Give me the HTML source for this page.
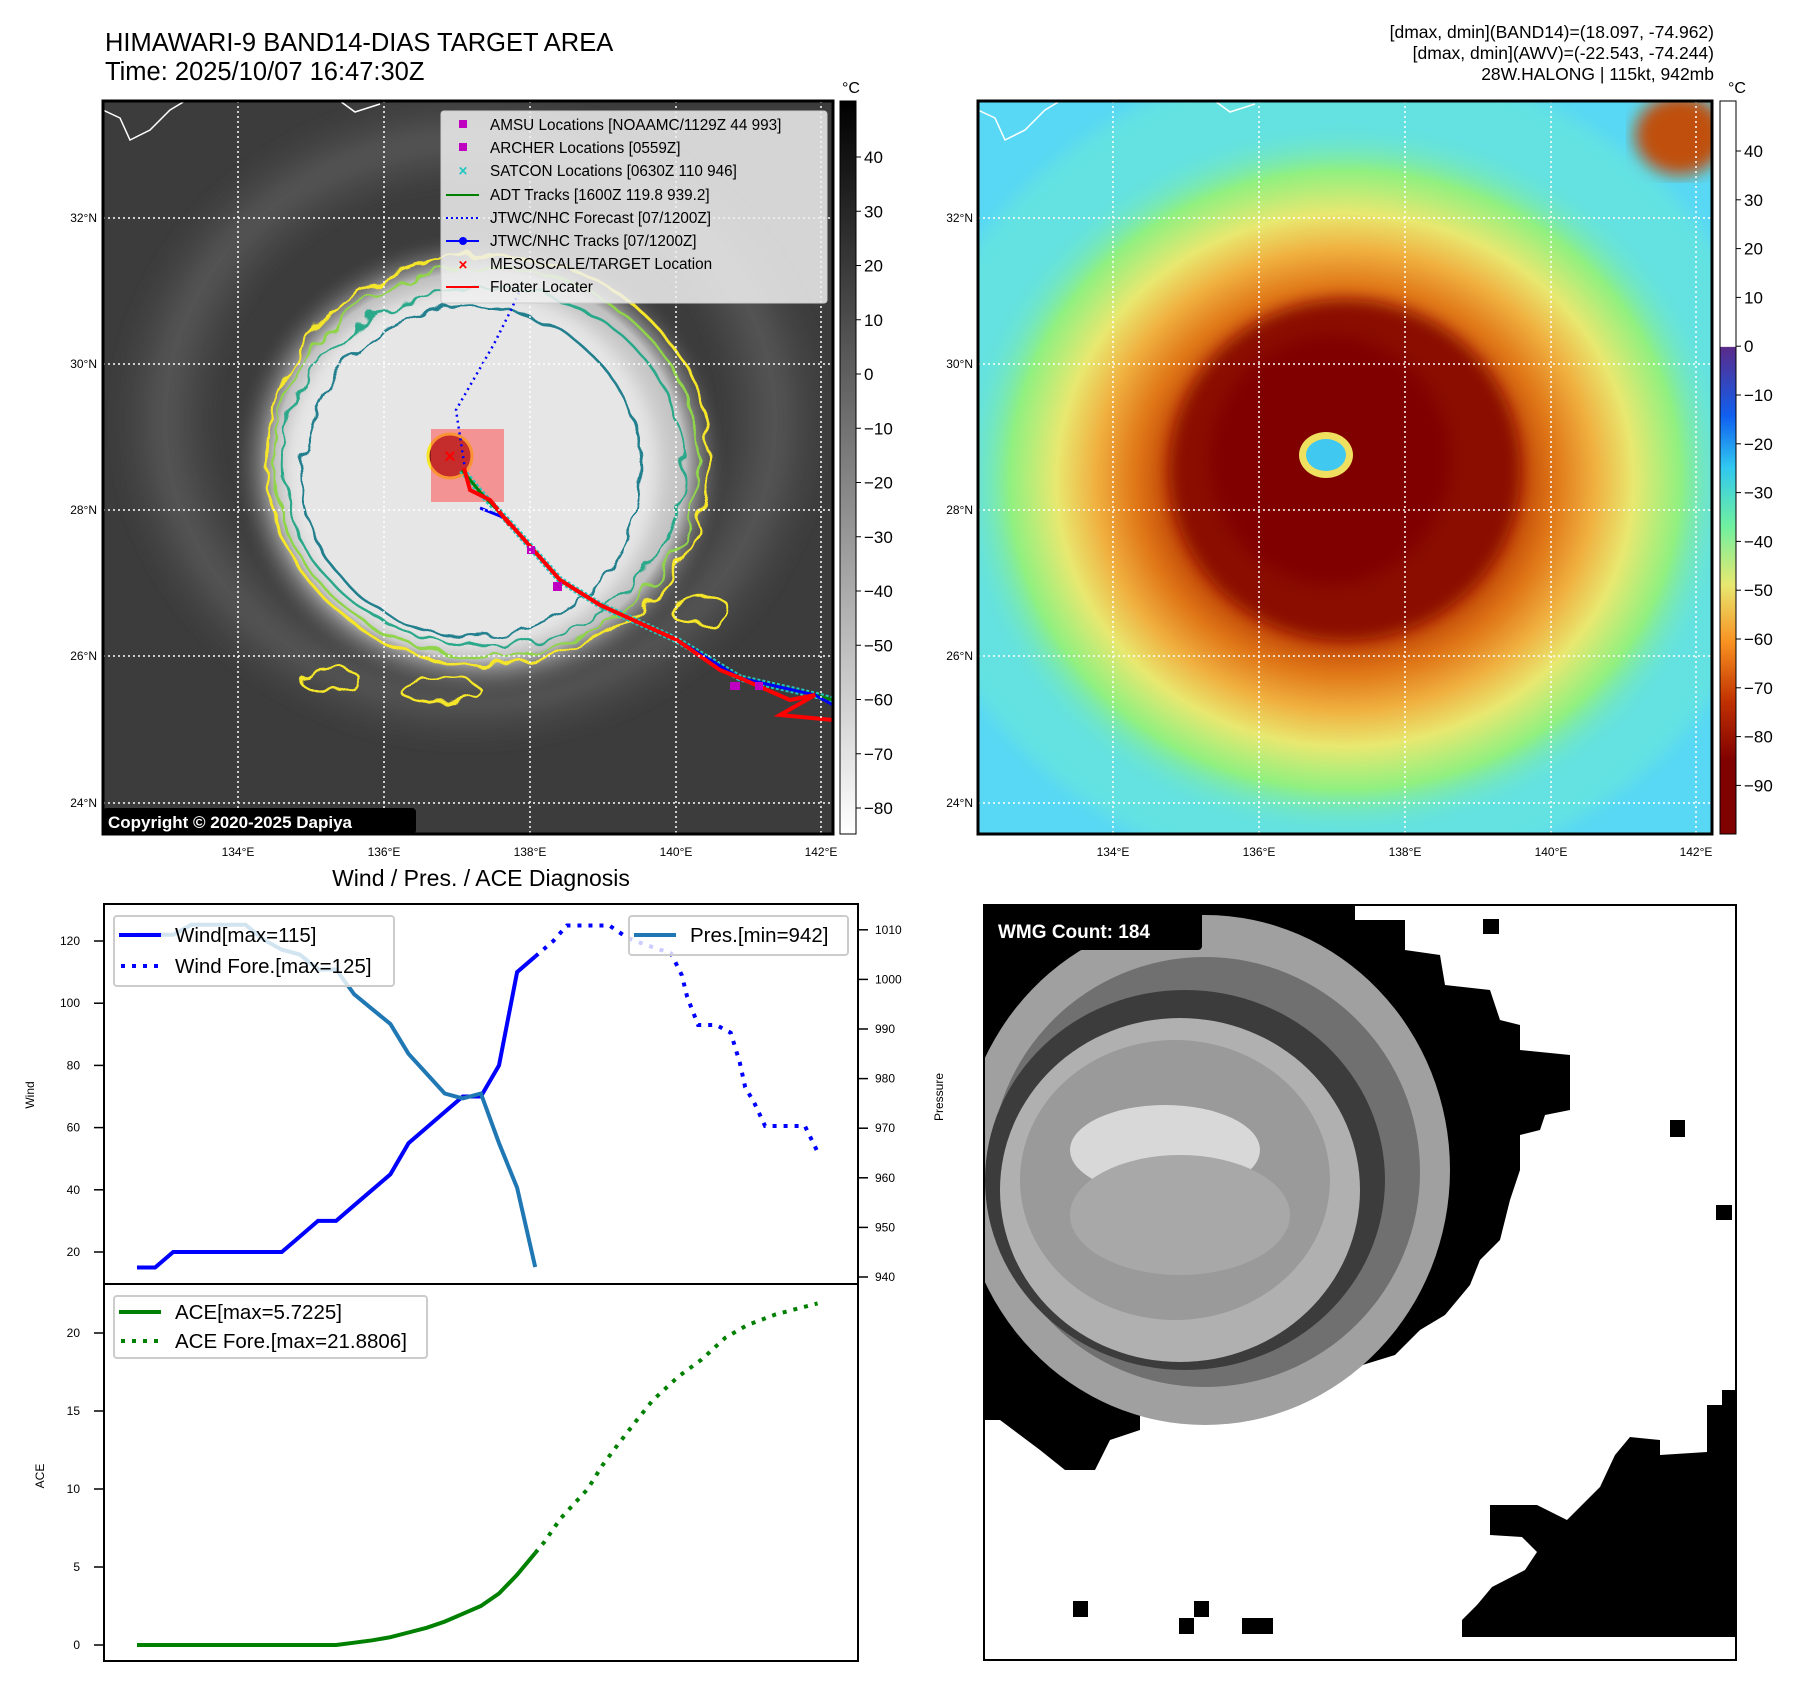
<!DOCTYPE html>
<html><head><meta charset="utf-8">
<style>
html,body{margin:0;padding:0;background:#fff;}
svg{display:block;font-family:"Liberation Sans","DejaVu Sans",sans-serif;}
</style></head>
<body>
<svg id="root" width="1797" height="1690" viewBox="0 0 1797 1690" xmlns="http://www.w3.org/2000/svg">
<defs>
  <radialGradient id="cloudG" cx="0.5" cy="0.5" r="0.5">
    <stop offset="0" stop-color="#f0f0f0"/><stop offset="0.6" stop-color="#e2e2e2"/><stop offset="0.82" stop-color="#c0c0c0"/><stop offset="1" stop-color="#3c3c3c" stop-opacity="0"/>
  </radialGradient>
  <radialGradient id="bandG" cx="0.5" cy="0.5" r="0.5">
    <stop offset="0.7" stop-color="#666" stop-opacity="0"/><stop offset="0.85" stop-color="#707070" stop-opacity="0.5"/><stop offset="1" stop-color="#555" stop-opacity="0"/>
  </radialGradient>
  <radialGradient id="irG" cx="0.5" cy="0.5" r="0.5">
    <stop offset="0" stop-color="#800000"/><stop offset="0.3" stop-color="#880800"/><stop offset="0.42" stop-color="#b83800"/><stop offset="0.54" stop-color="#e07818"/><stop offset="0.64" stop-color="#f0b040"/><stop offset="0.74" stop-color="#e8e870"/><stop offset="0.86" stop-color="#90f080"/><stop offset="1" stop-color="#60e0e8" stop-opacity="0"/>
  </radialGradient>
  <linearGradient id="cbGray" x1="0" y1="0" x2="0" y2="1">
    <stop offset="0" stop-color="#000"/><stop offset="1" stop-color="#fff"/>
  </linearGradient>
  <linearGradient id="cbIR" x1="0" y1="0" x2="0" y2="1">
    <stop offset="0" stop-color="#fff"/><stop offset="0.335" stop-color="#fff"/><stop offset="0.336" stop-color="#5a2a8a"/>
    <stop offset="0.43" stop-color="#1060f0"/><stop offset="0.5" stop-color="#30c8f0"/><stop offset="0.58" stop-color="#70f0a0"/>
    <stop offset="0.66" stop-color="#e8e870"/><stop offset="0.74" stop-color="#f89020"/><stop offset="0.82" stop-color="#c03000"/><stop offset="0.9" stop-color="#800000"/><stop offset="1" stop-color="#800000"/>
  </linearGradient>
  <filter id="wig" x="-10%" y="-10%" width="120%" height="120%">
    <feTurbulence type="fractalNoise" baseFrequency="0.04" numOctaves="2" seed="3"/>
    <feDisplacementMap in="SourceGraphic" scale="18"/>
  </filter>
  <filter id="blur8"><feGaussianBlur stdDeviation="8"/></filter>
  <clipPath id="clipL"><rect x="103" y="101" width="730" height="733"/></clipPath>
  <clipPath id="clipR"><rect x="978" y="101" width="734" height="733"/></clipPath>
  <clipPath id="clipW"><rect x="984" y="905" width="752" height="755"/></clipPath>
</defs>

<!-- Titles -->
<text x="105" y="51" font-size="25.5" fill="#000">HIMAWARI-9 BAND14-DIAS TARGET AREA</text>
<text x="105" y="80" font-size="25.5" fill="#000">Time: 2025/10/07 16:47:30Z</text>
<g font-size="17.5" text-anchor="end" fill="#000">
  <text x="1714" y="38">[dmax, dmin](BAND14)=(18.097, -74.962)</text>
  <text x="1714" y="59">[dmax, dmin](AWV)=(-22.543, -74.244)</text>
  <text x="1714" y="80">28W.HALONG | 115kt, 942mb</text>
</g>

<!-- LEFT MAP -->
<g clip-path="url(#clipL)">
  <rect x="103" y="101" width="730" height="733" fill="#3c3c3c"/>
  <ellipse cx="470" cy="420" rx="360" ry="330" fill="url(#bandG)" filter="url(#blur8)"/>
  <ellipse cx="480" cy="465" rx="250" ry="235" fill="url(#cloudG)"/>
  <ellipse cx="470" cy="470" rx="185" ry="180" fill="#e6e6e6" filter="url(#blur8)"/>
  <g fill="none" filter="url(#wig)">
    <ellipse cx="488" cy="460" rx="222" ry="205" stroke="#f5e62a" stroke-width="3"/>
    <ellipse cx="486" cy="462" rx="212" ry="195" stroke="#8fd448" stroke-width="2.5"/>
    <ellipse cx="484" cy="466" rx="200" ry="180" stroke="#2aa88a" stroke-width="2.5"/>
    <ellipse cx="472" cy="472" rx="170" ry="165" stroke="#237f8e" stroke-width="2.5"/>
    <ellipse cx="330" cy="680" rx="30" ry="12" stroke="#f5e62a" stroke-width="2.5"/>
    <ellipse cx="700" cy="610" rx="30" ry="14" stroke="#f5e62a" stroke-width="2.5"/>
    <ellipse cx="440" cy="690" rx="40" ry="12" stroke="#f5e62a" stroke-width="2.5"/>
  </g>
  <circle cx="450" cy="456" r="22" fill="#8b1a1a" stroke="#f5e62a" stroke-width="3"/>
  <rect x="431" y="429" width="73" height="73" fill="#ff4040" fill-opacity="0.5"/>
  <polyline points="103,110 120,118 130,140 150,130 170,110 185,101" fill="none" stroke="#fff" stroke-width="1.5"/>
  <polyline points="340,101 355,112 380,104" fill="none" stroke="#fff" stroke-width="1.5"/>
  <polyline points="466,476 456,410 494,344 511,310 520,290" fill="none" stroke="#0000ff" stroke-width="2.5" stroke-dasharray="2,4"/>
  <polyline points="462,470 480,492 505,518 560,580 600,605 677,640 740,678 815,695 833,700" fill="none" stroke="#20c8c0" stroke-width="7" stroke-dasharray="3,2"/>
  <polyline points="462,470 480,492 505,518 560,580 600,605 677,640 740,678 815,695 833,700" fill="none" stroke="#008000" stroke-width="3"/>
  <polyline points="480,508 505,518 560,580 600,605 677,640 740,678 815,695 833,705" fill="none" stroke="#0000ff" stroke-width="3"/>
  <polyline points="464,468 470,490 490,500 510,525 505,518 560,580 600,605 677,640 720,670 740,678 790,700 815,695 780,715 833,720" fill="none" stroke="#ff0000" stroke-width="4"/>
  <g fill="#c000c0"><rect x="527" y="546" width="8" height="8"/><rect x="553" y="582" width="9" height="9"/><rect x="730" y="682" width="10" height="8"/><rect x="755" y="682" width="8" height="8"/></g>
  <text x="450" y="463" font-size="20" font-weight="bold" fill="#ff0000" text-anchor="middle">×</text>
  <g stroke="#fff" stroke-width="1.5" stroke-dasharray="2,3">
    <line x1="238" y1="101" x2="238" y2="834"/><line x1="384" y1="101" x2="384" y2="834"/><line x1="530" y1="101" x2="530" y2="834"/><line x1="676" y1="101" x2="676" y2="834"/><line x1="821" y1="101" x2="821" y2="834"/>
    <line x1="103" y1="218" x2="833" y2="218"/><line x1="103" y1="364" x2="833" y2="364"/><line x1="103" y1="510" x2="833" y2="510"/><line x1="103" y1="656" x2="833" y2="656"/><line x1="103" y1="803" x2="833" y2="803"/>
  </g>
  <g>
    <rect x="441" y="111" width="386" height="192" rx="3" fill="#f0f0f0" fill-opacity="0.85" stroke="#ccc"/>
    <g font-size="15.3" fill="#000">
      <rect x="459" y="120" width="8" height="8" fill="#c000c0"/><text x="490" y="130">AMSU Locations [NOAAMC/1129Z 44 993]</text>
      <rect x="459" y="143" width="8" height="8" fill="#c000c0"/><text x="490" y="153">ARCHER Locations [0559Z]</text>
      <text x="463" y="176" fill="#20c8c0" text-anchor="middle" font-weight="bold">×</text><text x="490" y="176">SATCON Locations [0630Z 110 946]</text>
      <line x1="446" y1="195" x2="479" y2="195" stroke="#008000" stroke-width="2"/><text x="490" y="200">ADT Tracks [1600Z 119.8 939.2]</text>
      <line x1="446" y1="218" x2="479" y2="218" stroke="#0000ff" stroke-width="2" stroke-dasharray="2,3"/><text x="490" y="223">JTWC/NHC Forecast [07/1200Z]</text>
      <line x1="446" y1="241" x2="479" y2="241" stroke="#0000ff" stroke-width="2"/><circle cx="463" cy="241" r="4" fill="#0000ff"/><text x="490" y="246">JTWC/NHC Tracks [07/1200Z]</text>
      <text x="463" y="270" fill="#ff0000" text-anchor="middle" font-weight="bold">×</text><text x="490" y="269">MESOSCALE/TARGET Location</text>
      <line x1="446" y1="287" x2="479" y2="287" stroke="#ff0000" stroke-width="2"/><text x="490" y="292">Floater Locater</text>
    </g>
  </g>
  <rect x="103" y="808" width="313" height="26" rx="4" fill="#000"/>
  <text x="108" y="828" font-size="17" font-weight="bold" fill="#fff">Copyright © 2020-2025 Dapiya</text>
</g>
<rect x="103" y="101" width="730" height="733" fill="none" stroke="#000" stroke-width="3"/>

<!-- RIGHT MAP -->
<g clip-path="url(#clipR)">
  <rect x="978" y="101" width="734" height="733" fill="#58d8f4"/>
  <ellipse cx="1345" cy="470" rx="440" ry="410" fill="#70ecd0" opacity="0.5" filter="url(#blur8)"/>
  <ellipse cx="1345" cy="480" rx="390" ry="360" fill="url(#irG)"/>
  <ellipse cx="1345" cy="470" rx="175" ry="170" fill="#8a1000" filter="url(#blur8)"/>
  <ellipse cx="1330" cy="460" rx="120" ry="125" fill="#800000" filter="url(#blur8)"/>
  <ellipse cx="1680" cy="135" rx="45" ry="40" fill="#c05010" filter="url(#blur8)"/>
  <ellipse cx="1326" cy="455" rx="27" ry="23" fill="#f0e060"/>
  <ellipse cx="1326" cy="455" rx="20" ry="16" fill="#40c8f0"/>
  <polyline points="978,110 995,118 1005,140 1025,130 1045,110 1060,101" fill="none" stroke="#fff" stroke-width="1.5"/>
  <polyline points="1215,101 1230,112 1255,104" fill="none" stroke="#fff" stroke-width="1.5"/>
  <g stroke="#fff" stroke-width="1.5" stroke-dasharray="2,3">
    <line x1="1113" y1="101" x2="1113" y2="834"/><line x1="1259" y1="101" x2="1259" y2="834"/><line x1="1405" y1="101" x2="1405" y2="834"/><line x1="1551" y1="101" x2="1551" y2="834"/><line x1="1696" y1="101" x2="1696" y2="834"/>
    <line x1="978" y1="218" x2="1712" y2="218"/><line x1="978" y1="364" x2="1712" y2="364"/><line x1="978" y1="510" x2="1712" y2="510"/><line x1="978" y1="656" x2="1712" y2="656"/><line x1="978" y1="803" x2="1712" y2="803"/>
  </g>
</g>
<rect x="978" y="101" width="734" height="733" fill="none" stroke="#000" stroke-width="3"/>

<!-- Map tick labels -->
<g font-size="12" fill="#000" text-anchor="end">
  <text x="97" y="222">32°N</text><text x="97" y="368">30°N</text><text x="97" y="514">28°N</text><text x="97" y="660">26°N</text><text x="97" y="807">24°N</text>
  <text x="973" y="222">32°N</text><text x="973" y="368">30°N</text><text x="973" y="514">28°N</text><text x="973" y="660">26°N</text><text x="973" y="807">24°N</text>
</g>
<g font-size="12" fill="#000" text-anchor="middle">
  <text x="238" y="856">134°E</text><text x="384" y="856">136°E</text><text x="530" y="856">138°E</text><text x="676" y="856">140°E</text><text x="821" y="856">142°E</text>
  <text x="1113" y="856">134°E</text><text x="1259" y="856">136°E</text><text x="1405" y="856">138°E</text><text x="1551" y="856">140°E</text><text x="1696" y="856">142°E</text>
</g>

<!-- Colorbars -->
<rect x="840" y="101" width="16" height="733" fill="url(#cbGray)" stroke="#000" stroke-width="1"/>
<text x="851" y="93" font-size="16" text-anchor="middle">°C</text>
<g id="cbL" font-size="17" fill="#000"></g>
<rect x="1720" y="101" width="16" height="733" fill="url(#cbIR)" stroke="#000" stroke-width="1"/>
<text x="1737" y="93" font-size="16" text-anchor="middle">°C</text>
<g id="cbR" font-size="17" fill="#000"></g>

<!-- Diagnosis chart -->
<text x="481" y="886" font-size="23" text-anchor="middle">Wind / Pres. / ACE Diagnosis</text>
<rect x="104" y="904" width="754" height="757" fill="#fff" stroke="#000" stroke-width="2"/>
<line x1="104" y1="1284" x2="858" y2="1284" stroke="#000" stroke-width="2"/>
<g id="chart"></g>
<text transform="translate(34,1095) rotate(-90)" font-size="12" text-anchor="middle">Wind</text>
<text transform="translate(943,1097) rotate(-90)" font-size="12" text-anchor="middle">Pressure</text>
<text transform="translate(44,1476) rotate(-90)" font-size="12" text-anchor="middle">ACE</text>

<g>
  <rect x="114" y="916" width="280" height="70" rx="3" fill="#fff" fill-opacity="0.8" stroke="#ccc" stroke-width="2"/>
  <line x1="119" y1="935" x2="161" y2="935" stroke="#0000ff" stroke-width="4"/>
  <text x="175" y="942" font-size="20.5">Wind[max=115]</text>
  <line x1="121" y1="966" x2="161" y2="966" stroke="#0000ff" stroke-width="4" stroke-dasharray="4,7"/>
  <text x="175" y="973" font-size="20.5">Wind Fore.[max=125]</text>
</g>
<g>
  <rect x="629" y="916" width="219" height="39" rx="3" fill="#fff" fill-opacity="0.8" stroke="#ccc" stroke-width="2"/>
  <line x1="634" y1="935" x2="676" y2="935" stroke="#1f77b4" stroke-width="4"/>
  <text x="690" y="942" font-size="20.5">Pres.[min=942]</text>
</g>
<g>
  <rect x="114" y="1296" width="313" height="62" rx="3" fill="#fff" fill-opacity="0.8" stroke="#ccc" stroke-width="2"/>
  <line x1="119" y1="1312" x2="161" y2="1312" stroke="#008000" stroke-width="4"/>
  <text x="175" y="1319" font-size="20.5">ACE[max=5.7225]</text>
  <line x1="121" y1="1341" x2="161" y2="1341" stroke="#008000" stroke-width="4" stroke-dasharray="4,7"/>
  <text x="175" y="1348" font-size="20.5">ACE Fore.[max=21.8806]</text>
</g>

<!-- WMG panel -->
<g clip-path="url(#clipW)">
  <rect x="984" y="905" width="752" height="755" fill="#fff"/>
  <polygon points="984,905 1355,905 1355,920 1405,920 1405,950 1440,955 1445,985 1490,990 1500,1020 1520,1025 1520,1050 1570,1055 1570,1110 1545,1115 1540,1130 1520,1135 1520,1170 1510,1200 1500,1240 1480,1260 1470,1285 1445,1315 1420,1330 1395,1355 1330,1375 1300,1385 1240,1390 1205,1400 1140,1405 1140,1430 1110,1440 1095,1470 1065,1470 1040,1450 1000,1420 984,1420" fill="#000"/>
  <ellipse cx="1205" cy="1170" rx="245" ry="255" fill="#a0a0a0"/>
  <ellipse cx="1205" cy="1172" rx="215" ry="215" fill="#707070"/>
  <ellipse cx="1185" cy="1180" rx="200" ry="190" fill="#3c3c3c"/>
  <ellipse cx="1180" cy="1190" rx="180" ry="172" fill="#b0b0b0"/>
  <ellipse cx="1175" cy="1180" rx="155" ry="140" fill="#9a9a9a"/>
  <ellipse cx="1165" cy="1150" rx="95" ry="45" fill="#d8d8d8"/>
  <ellipse cx="1180" cy="1215" rx="110" ry="60" fill="#a8a8a8"/>
  <polygon points="1736,1390 1736,1637 1462,1637 1462,1620 1477,1605 1492,1587 1525,1570 1537,1552 1522,1537 1490,1535 1490,1505 1537,1505 1567,1520 1600,1487 1615,1455 1630,1437 1660,1440 1660,1455 1707,1452 1707,1405 1722,1405 1722,1390" fill="#000"/>
  <rect x="1073" y="1601" width="15" height="16" fill="#000"/><rect x="1194" y="1601" width="15" height="16" fill="#000"/><rect x="1179" y="1618" width="15" height="16" fill="#000"/><rect x="1242" y="1618" width="31" height="16" fill="#000"/>
  <rect x="1670" y="1120" width="15" height="17" fill="#000"/><rect x="1716" y="1205" width="16" height="15" fill="#000"/><rect x="1483" y="919" width="16" height="15" fill="#000"/>
  <rect x="984" y="910" width="218" height="40" rx="4" fill="#000"/>
  <text x="998" y="938" font-size="19" font-weight="bold" fill="#fff">WMG Count: 184</text>
</g>
<rect x="984" y="905" width="752" height="755" fill="none" stroke="#000" stroke-width="2"/>
</svg>

<script>
// colorbar tick values
const cbLeftTicks = [40,30,20,10,0,-10,-20,-30,-40,-50,-60,-70,-80];
const cbRightTicks = [40,30,20,10,0,-10,-20,-30,-40,-50,-60,-70,-80,-90];

// diagnosis chart data
const obsT = [0,1,2,3,4,5,6,7,8,9,10,11,12,13,14,15,16,17,18,19,20,21,22];
const windObs = [15,15,20,20,20,20,20,20,20,25,30,30,35,40,45,55,60,65,70,70,80,110,115];
const presObs = [1009,1009,1009,1011,1011,1011,1011,1008,1006,1005,1002,1002,997,994,991,985,981,977,976,977,967,958,942];
const aceObs = [0,0,0,0,0,0,0,0,0,0,0,0,0.15,0.3,0.5,0.8,1.1,1.5,2.0,2.5,3.3,4.5,5.9];
const foreT = [22,23,23.75,24.5,25.3,26.1,27.1,28,29.5,30.1,30.4,31,32,32.8,33.3,33.6,34.1,34.7,35.8,36.9,37.7];
const windFore = [115,120,125,125,125,125,121,119,116,109,102,93,93,90.5,81,73,68,60.5,60.5,60.5,51];
const aceForeT = [22,22.5,23.4,24.9,25.7,26.6,27.6,28.5,29.9,31.2,32.5,33.7,35.3,37.6];
const aceFore = [5.9,6.6,8.1,10.0,11.5,12.9,14.4,15.7,17.2,18.3,19.7,20.5,21.2,21.9];
const windTicks = [20,40,60,80,100,120];
const presTicks = [940,950,960,970,980,990,1000,1010];
const aceTicks = [0,5,10,15,20];

const NS = 'http://www.w3.org/2000/svg';
function mk(tag, attrs, parent){ const e=document.createElementNS(NS,tag); for(const k in attrs) e.setAttribute(k,attrs[k]); parent.appendChild(e); return e; }

const xT = t => 137 + t*18.1;
const yWind = v => 1252 - (v-20)*3.11;
const yPres = v => 1277 - (v-940)*4.96;
const yAce = v => 1645 - v*15.6;
const yCbL = v => 157 + (40-v)*5.425;
const yCbR = v => 151 + (40-v)*4.88;

const cbL = document.getElementById('cbL');
cbLeftTicks.forEach(v=>{
  const y=yCbL(v);
  mk('line',{x1:856,y1:y,x2:861,y2:y,stroke:'#000'},cbL);
  const t=mk('text',{x:864,y:y+6},cbL); t.textContent=(v<0?'\u2212'+(-v):v);
  
  
});
const cbR = document.getElementById('cbR');
cbRightTicks.forEach(v=>{
  const y=yCbR(v);
  mk('line',{x1:1736,y1:y,x2:1741,y2:y,stroke:'#000'},cbR);
  const t=mk('text',{x:1744,y:y+6},cbR); t.textContent=(v<0?'\u2212'+(-v):v);
  
  
});

const g = document.getElementById('chart');
windTicks.forEach(v=>{ const y=yWind(v);
  mk('line',{x1:94,y1:y,x2:104,y2:y,stroke:'#000','stroke-width':1.5},g);
  const t=mk('text',{x:80,y:y+4,'font-size':12,'text-anchor':'end'},g); t.textContent=v;
  
  
});
presTicks.forEach(v=>{ const y=yPres(v);
  mk('line',{x1:858,y1:y,x2:868,y2:y,stroke:'#000','stroke-width':1.5},g);
  const t=mk('text',{x:875,y:y+4,'font-size':12},g); t.textContent=v;
  
  
});
aceTicks.forEach(v=>{ const y=yAce(v);
  mk('line',{x1:94,y1:y,x2:104,y2:y,stroke:'#000','stroke-width':1.5},g);
  const t=mk('text',{x:80,y:y+4,'font-size':12,'text-anchor':'end'},g); t.textContent=v;
  
  
});

function pts(ts, vs, yf){ return ts.map((t,i)=>xT(t).toFixed(1)+','+yf(vs[i]).toFixed(1)).join(' '); }

let p;
p = mk('polyline',{points:pts(foreT,windFore,yWind),fill:'none',stroke:'#0000ff','stroke-width':4,'stroke-dasharray':'4,7'},g);


p = mk('polyline',{points:pts(obsT,windObs,yWind),fill:'none',stroke:'#0000ff','stroke-width':4},g);


p = mk('polyline',{points:pts(obsT,presObs,yPres),fill:'none',stroke:'#1f77b4','stroke-width':4},g);


p = mk('polyline',{points:pts(aceForeT,aceFore,yAce),fill:'none',stroke:'#008000','stroke-width':4,'stroke-dasharray':'4,7'},g);


p = mk('polyline',{points:pts(obsT,aceObs,yAce),fill:'none',stroke:'#008000','stroke-width':4},g);


</script>
</body></html>
